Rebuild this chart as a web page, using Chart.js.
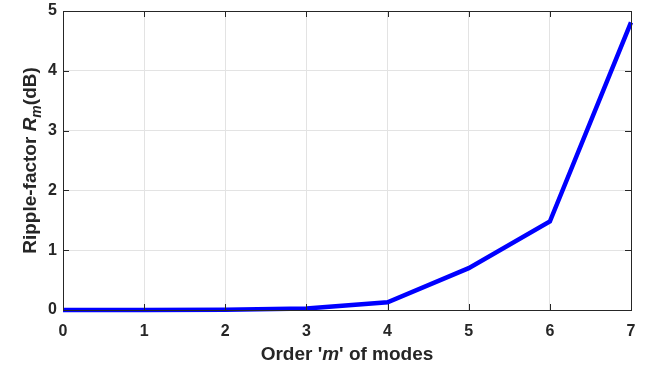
<!DOCTYPE html>
<html>
<head>
<meta charset="utf-8">
<script src="https://cdn.jsdelivr.net/npm/chart.js@4"></script>
<style>
  html, body { margin: 0; padding: 0; background: #fff; }
  #wrap { width: 646px; height: 367px; }
</style>
</head>
<body>
<div id="wrap"><canvas id="ripple"></canvas></div>
<script>
// mode order m and ripple factor R_m in dB
const modeOrder = [0, 1, 2, 3, 4, 5, 6, 7];
const rippleDb = [0, 0.001, 0.005, 0.025, 0.13, 0.70, 1.48, 4.81];
const yTicks = [0, 1, 2, 3, 4, 5];

const FONT = '"Liberation Sans", Arial, Helvetica, sans-serif';
const INK = "#262626";

// axes box with inward ticks on all four sides
const boxPlugin = {
  id: "box",
  afterDraw(chart) {
    const { ctx, chartArea: a, scales } = chart;
    const len = 6;
    ctx.save();
    ctx.strokeStyle = INK;
    ctx.lineWidth = 1;
    ctx.beginPath();
    modeOrder.forEach((v) => {
      const x = Math.round(scales.x.getPixelForValue(v)) + 0.5;
      ctx.moveTo(x, a.bottom); ctx.lineTo(x, a.bottom - len);
      ctx.moveTo(x, a.top); ctx.lineTo(x, a.top + len);
    });
    yTicks.forEach((v) => {
      const y = Math.round(scales.y.getPixelForValue(v)) + 0.5;
      ctx.moveTo(a.left, y); ctx.lineTo(a.left + len, y);
      ctx.moveTo(a.right, y); ctx.lineTo(a.right - len, y);
    });
    ctx.stroke();
    ctx.strokeRect(Math.round(a.left) + 0.5, Math.round(a.top) + 0.5,
      Math.round(a.right - a.left), Math.round(a.bottom - a.top));
    ctx.restore();
  },
};

// axis titles with italic symbol parts
function drawRuns(ctx, runs, x, y) {
  let total = 0;
  runs.forEach((r) => { ctx.font = r.font; total += ctx.measureText(r.text).width; });
  let cx = x - total / 2;
  runs.forEach((r) => {
    ctx.font = r.font;
    ctx.fillText(r.text, cx, y + (r.dy || 0));
    cx += ctx.measureText(r.text).width;
  });
}

const titlePlugin = {
  id: "titles",
  afterDraw(chart) {
    const { ctx, chartArea: a } = chart;
    const b = "bold 19px " + FONT;
    const bi = "italic bold 19px " + FONT;
    ctx.save();
    ctx.fillStyle = INK;
    ctx.textBaseline = "alphabetic";
    drawRuns(ctx, [
      { text: "Order '", font: b },
      { text: "m", font: bi },
      { text: "' of modes", font: b },
    ], (a.left + a.right) / 2, 360);

    ctx.translate(36, (a.top + a.bottom) / 2);
    ctx.rotate(-Math.PI / 2);
    drawRuns(ctx, [
      { text: "Ripple-factor ", font: b },
      { text: "R", font: bi },
      { text: "m", font: "italic bold 14px " + FONT, dy: 5 },
      { text: "(dB)", font: b },
    ], 0, 0);
    ctx.restore();
  },
};

new Chart(document.getElementById("ripple"), {
  type: "line",
  data: {
    datasets: [
      {
        data: modeOrder.map((m, i) => ({ x: m, y: rippleDb[i] })),
        borderColor: "#0000ff",
        borderWidth: 4.5,
        pointRadius: 0,
        tension: 0,
        clip: 6,
      },
    ],
  },
  options: {
    responsive: true,
    maintainAspectRatio: false,
    animation: false,
    layout: { padding: { top: 11, right: 15, left: 0, bottom: 0 } },
    plugins: { legend: { display: false }, tooltip: { enabled: false } },
    scales: {
      x: {
        type: "linear",
        min: 0,
        max: 7,
        afterBuildTicks: (s) => { s.ticks = modeOrder.map((v) => ({ value: v })); },
        afterFit: (s) => { s.height = 57; s.paddingLeft = 0; s.paddingRight = 0; },
        grid: { color: "#e3e3e3", drawTicks: false },
        border: { display: false },
        ticks: { color: INK, padding: 12, font: { family: FONT, size: 16, weight: "bold" } },
      },
      y: {
        min: 0,
        max: 5,
        afterBuildTicks: (s) => { s.ticks = yTicks.map((v) => ({ value: v })); },
        afterFit: (s) => { s.width = 63; s.paddingTop = 0; s.paddingBottom = 0; },
        grid: { color: "#e3e3e3", drawTicks: false },
        border: { display: false },
        ticks: { color: INK, padding: 6, font: { family: FONT, size: 16, weight: "bold" } },
      },
    },
  },
  plugins: [boxPlugin, titlePlugin],
});
</script>
</body>
</html>
